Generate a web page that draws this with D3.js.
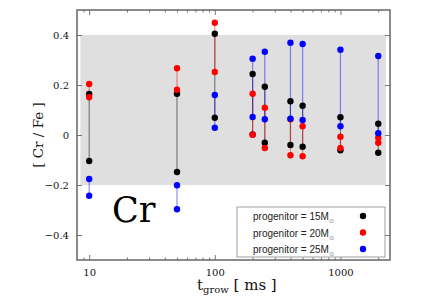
<!DOCTYPE html>
<html><head><meta charset="utf-8">
<script src="https://cdn.jsdelivr.net/npm/d3@7"></script>
<style>body{margin:0;background:#fff}svg{display:block}</style>
</head><body>
<script>
const times = [10, 50, 100, 200, 250, 400, 500, 1000, 2000];
const m15 = [[0.164,-0.104],[0.165,-0.148],[0.405,0.069],[0.244,0.002],[0.193,-0.031],[0.135,-0.040],[0.117,-0.047],[0.071,-0.061],[0.045,-0.071]];
const m20 = [[0.204,0.151],[0.267,0.181],[0.449,0.252],[0.165,0.001],[0.109,-0.052],[0.063,-0.081],[0.035,-0.085],[-0.007,-0.052],[-0.011,-0.031]];
const m25 = [[-0.176,-0.243],[-0.201,-0.297],[0.160,0.029],[0.305,0.072],[0.333,0.063],[0.369,0.065],[0.364,0.060],[0.341,0.035],[0.316,0.007]];
const seriesNames = ["progenitor = 15M", "progenitor = 20M", "progenitor = 25M"];
const seriesColors = ["#000000", "#ff0000", "#0000ff"];
const band = {x: [8.5, 2300], y: [-0.2, 0.4]};
const yTicks = [-0.4, -0.2, 0, 0.2, 0.4];
const xTicks = [10, 100, 1000];

const W = 436, H = 305;
const m = {l: 77, r: 390, t: 10, b: 260};
const svg = d3.select("body").append("svg").attr("width", W).attr("height", H);
const x = d3.scaleLog().domain([8, 2480]).range([m.l, m.r]);
const y = d3.scaleLinear().domain([-0.5, 0.5]).range([m.b, m.t]);

// band
svg.append("rect").attr("x", x(band.x[0])).attr("y", y(band.y[1]))
  .attr("width", x(band.x[1]) - x(band.x[0])).attr("height", y(band.y[0]) - y(band.y[1]))
  .attr("fill", "#dfdfdf");

// series
const all = [m15, m20, m25];
all.forEach((s, i) => {
  svg.append("g").selectAll("line").data(s).join("line")
    .attr("x1", (d, j) => x(times[j])).attr("x2", (d, j) => x(times[j]))
    .attr("y1", d => y(d[0])).attr("y2", d => y(d[1]))
    .attr("stroke", seriesColors[i]).attr("stroke-opacity", 0.45).attr("stroke-width", 1.2);
});
all.forEach((s, i) => {
  const pts = s.flatMap((d, j) => [[times[j], d[0]], [times[j], d[1]]]);
  svg.append("g").selectAll("circle").data(pts).join("circle")
    .attr("cx", d => x(d[0])).attr("cy", d => y(d[1])).attr("r", 3.2)
    .attr("fill", seriesColors[i]);
});

// axes
const fontSerif = "'DejaVu Serif','Liberation Serif',serif";
const minor = [9];
for (let dec = 10; dec <= 1000; dec *= 10) for (let k = 2; k <= 9; k++) { const v = dec * k; if (v < 2480) minor.push(v); }
const axB = svg.append("g").attr("transform", `translate(0,${m.b})`)
  .call(d3.axisBottom(x).tickValues(xTicks).tickFormat(d3.format("d")).tickSizeInner(-5).tickSizeOuter(0).tickPadding(9));
const axBm = svg.append("g").attr("transform", `translate(0,${m.b})`)
  .call(d3.axisBottom(x).tickValues(minor).tickFormat("").tickSizeInner(-2.5).tickSizeOuter(0));
const axT = svg.append("g").attr("transform", `translate(0,${m.t})`)
  .call(d3.axisTop(x).tickValues(xTicks).tickFormat("").tickSizeInner(-5).tickSizeOuter(0));
const axTm = svg.append("g").attr("transform", `translate(0,${m.t})`)
  .call(d3.axisTop(x).tickValues(minor).tickFormat("").tickSizeInner(-2.5).tickSizeOuter(0));
const axL = svg.append("g").attr("transform", `translate(${m.l},0)`)
  .call(d3.axisLeft(y).tickValues(yTicks).tickFormat(d => d === 0 ? "0" : d3.format(".1f")(d)).tickSizeInner(-5).tickSizeOuter(0).tickPadding(8));
const axR = svg.append("g").attr("transform", `translate(${m.r},0)`)
  .call(d3.axisRight(y).tickValues(yTicks).tickFormat("").tickSizeInner(-5).tickSizeOuter(0));
[axB, axBm, axT, axTm, axL, axR].forEach(a => {
  a.attr("font-family", fontSerif);
  a.select(".domain").remove();
  a.selectAll("line").attr("stroke", "#555").attr("stroke-width", 0.8);
  a.selectAll("text").attr("font-family", fontSerif).attr("font-size", 10).attr("fill", "#111");
});
svg.append("rect").attr("x", m.l).attr("y", m.t).attr("width", m.r - m.l).attr("height", m.b - m.t)
  .attr("fill", "none").attr("stroke", "#666").attr("stroke-width", 1.5);

// labels
svg.append("text").attr("transform", `translate(43,${(m.t+m.b)/2}) rotate(-90)`)
  .attr("text-anchor", "middle").attr("font-family", fontSerif).attr("font-size", 13.5).attr("fill", "#111")
  .attr("style", "white-space:pre").text("[ Cr / Fe ]");
const xl = svg.append("text").attr("x", 197).attr("y", 290).attr("font-family", fontSerif).attr("font-size", 15).attr("fill", "#111").attr("style", "white-space:pre");
xl.append("tspan").text("t");
xl.append("tspan").attr("font-size", 10).attr("dy", 3).text("grow");
xl.append("tspan").attr("dy", -3).text(" [ ms ]");

svg.append("text").attr("x", 112).attr("y", 222).attr("font-family", fontSerif).attr("font-size", 35).attr("fill", "#000").text("Cr");

// legend
const lg = svg.append("g");
lg.append("rect").attr("x", 237).attr("y", 207).attr("width", 148).attr("height", 50)
  .attr("fill", "#fff").attr("stroke", "#888").attr("stroke-width", 0.8);
seriesNames.forEach((n, i) => {
  const t = lg.append("text").attr("x", 253).attr("y", 220 + i * 16.5)
    .attr("font-family", "'Liberation Sans',Arial,sans-serif").attr("font-size", 10).attr("fill", "#222");
  t.append("tspan").text(n);
  t.append("tspan").attr("font-size", 6).attr("dy", 3).attr("fill", "#777").text("⊙");
  lg.append("circle").attr("cx", 363).attr("cy", 216 + i * 16.5).attr("r", 3.2).attr("fill", seriesColors[i]);
});
</script>
</body></html>
